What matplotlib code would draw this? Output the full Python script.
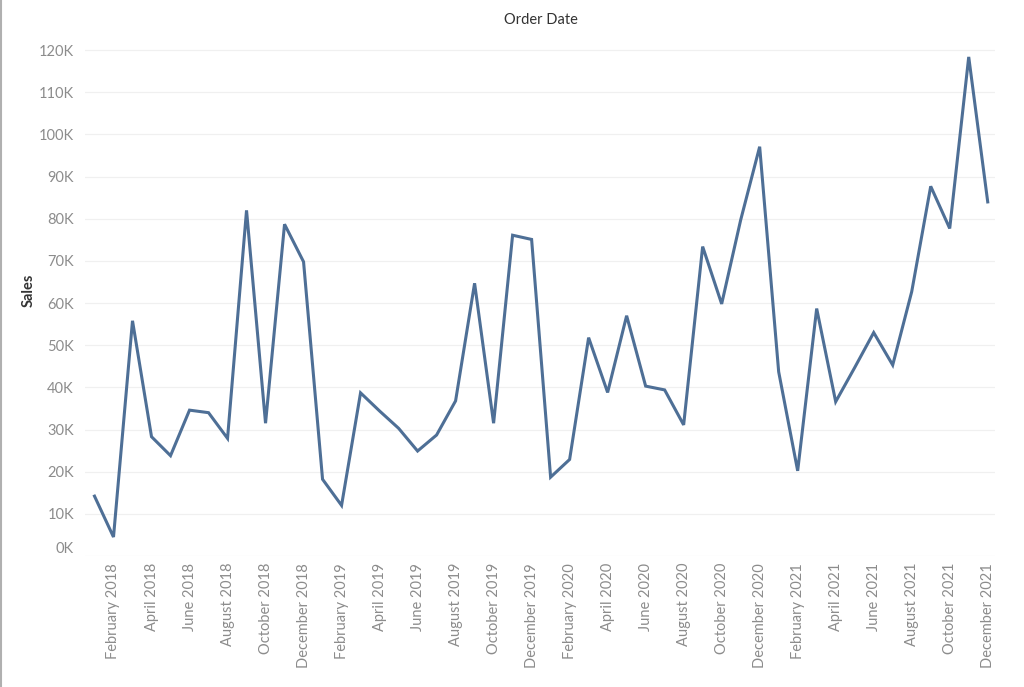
import numpy as np
import matplotlib
matplotlib.use("Agg")
import matplotlib.pyplot as plt
from matplotlib.lines import Line2D

# monthly sales, Jan 2018 .. Dec 2021 (thousands)
months = ["January", "February", "March", "April", "May", "June", "July",
          "August", "September", "October", "November", "December"]
years = [2018, 2019, 2020, 2021]
sales_k = [14.2, 4.5, 55.8, 28.3, 23.8, 34.6, 34.0, 27.9, 82.0, 31.5, 78.7, 69.8,
           18.2, 12.0, 38.7, 34.4, 30.3, 24.9, 28.7, 36.8, 64.7, 31.5, 76.1, 75.1,
           18.7, 22.9, 51.8, 38.8, 57.0, 40.3, 39.4, 31.1, 73.4, 59.8, 79.7, 97.1,
           43.7, 20.2, 58.7, 36.6, 44.7, 53.0, 45.3, 62.7, 87.7, 77.7, 118.4, 84.0]
y_ticks_k = [0, 10, 20, 30, 40, 50, 60, 70, 80, 90, 100, 110, 120]

labels = [f"{m} {y}" for y in years for m in months]
sales = np.array(sales_k) * 1000
x = np.arange(len(sales))

plt.rcParams['font.family'] = ['Lato', 'DejaVu Sans']

fig = plt.figure(figsize=(10.24, 6.87), dpi=100)
ax = fig.add_axes([0.083, 0.1907, 0.889, 0.751])

ax.plot(x, sales, color="#4e6f96", lw=2.2, solid_joinstyle="miter")

ax.set_xlim(-0.5, 47.4)
ax.set_ylim(0, 122400)
ax.set_yticks([v * 1000 for v in y_ticks_k])
ax.set_yticklabels([f"{v}K" for v in y_ticks_k])
ax.set_xticks(x[1::2])
ax.set_xticklabels(labels[1::2], rotation=90, va="top", ha="center")

ax.tick_params(length=0, colors="#8c8c8c", labelsize=10.5)
ax.tick_params(axis="y", pad=8)
ax.tick_params(axis="x", pad=5)
# tableau nudges the bottom label up inside the pane
ax.get_yticklabels()[0].set_va("bottom")
ax.grid(axis="y", color="#f0f0f0", lw=0.9)
ax.set_axisbelow(True)
for s in ax.spines.values():
    s.set_visible(False)

fig.text(0.528, 0.971, "Order Date", ha="center", va="center",
         fontsize=10.5, color="#333333")
fig.text(0.028, 0.578, "Sales", ha="center", va="center", rotation=90,
         fontsize=10.5, fontweight="bold", color="#333333")

# thin frame on the left edge
fig.add_artist(Line2D([0.001, 0.001], [0, 1], transform=fig.transFigure,
                      color="#b0b0b0", lw=1.5))

fig.savefig("out.png", dpi=100)
